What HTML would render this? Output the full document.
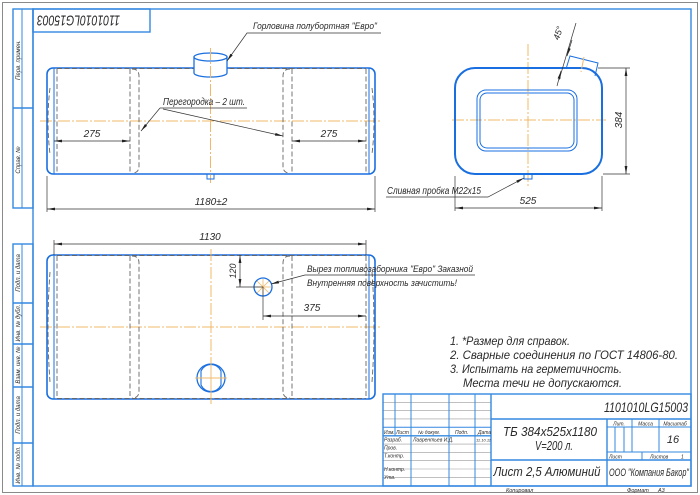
<!DOCTYPE html>
<html><head><meta charset="utf-8"><style>
html,body{margin:0;padding:0;background:#fff;width:700px;height:495px;overflow:hidden}
svg{display:block}
text{font-family:"Liberation Sans","DejaVu Sans",sans-serif;font-style:italic;fill:#2a2a2a}
.fr{fill:none;stroke:#3388e0;stroke-width:1.4}
.fl{fill:none;stroke:#3388e0;stroke-width:1}
.g{fill:none;stroke:#9a9a9a;stroke-width:0.6}
.b{fill:none;stroke:#1a6fe0;stroke-width:1.6}
.bt{fill:none;stroke:#1a6fe0;stroke-width:1}
.d{fill:none;stroke:#666;stroke-width:0.9;stroke-dasharray:5 2.5}
.c{fill:none;stroke:#f0b868;stroke-width:1;stroke-dasharray:12 2 2 2}
.dm{fill:none;stroke:#333;stroke-width:0.7}
</style></head><body>
<svg width="700" height="495" viewBox="0 0 700 495" xmlns="http://www.w3.org/2000/svg">
<defs>
<marker id="ar" markerUnits="userSpaceOnUse" markerWidth="8" markerHeight="4" viewBox="0 0 8 4" refX="8" refY="2" orient="auto-start-reverse"><path d="M0,0.6 L8,2 L0,3.4z" fill="#222"/></marker>
</defs>
<rect width="700" height="495" fill="#fff"/>
<rect x="2.5" y="2.5" width="695" height="490" fill="none" stroke="#8a8a8a" stroke-width="1"/>
<rect x="33" y="9" width="658" height="477" class="fr"/>

<!-- left strips -->
<rect x="13" y="9" width="20" height="199" class="fr"/>
<line x1="22" y1="9" x2="22" y2="208" class="fl"/>
<line x1="13" y1="108" x2="33" y2="108" class="fr"/>
<text transform="translate(20,60) rotate(-90)" text-anchor="middle" font-size="6">Перв. примен.</text>
<text transform="translate(20,160) rotate(-90)" text-anchor="middle" font-size="6">Справ. №</text>

<rect x="13" y="244" width="20" height="242" class="fr"/>
<line x1="22" y1="244" x2="22" y2="486" class="fl"/>
<line x1="13" y1="303" x2="33" y2="303" class="fr"/>
<line x1="13" y1="344" x2="33" y2="344" class="fr"/>
<line x1="13" y1="387" x2="33" y2="387" class="fr"/>
<line x1="13" y1="443" x2="33" y2="443" class="fr" stroke-width="2"/>
<text transform="translate(20,273) rotate(-90)" text-anchor="middle" font-size="6">Подп. и дата</text>
<text transform="translate(20,323) rotate(-90)" text-anchor="middle" font-size="6">Инв. № дубл.</text>
<text transform="translate(20,365) rotate(-90)" text-anchor="middle" font-size="6">Взам. инв. №</text>
<text transform="translate(20,415) rotate(-90)" text-anchor="middle" font-size="6">Подп. и дата</text>
<text transform="translate(20,465) rotate(-90)" text-anchor="middle" font-size="6">Инв. № подл.</text>

<!-- top stamp -->
<rect x="33" y="9" width="117" height="23" class="fr"/>
<text transform="translate(78.5,15.5) rotate(180)" text-anchor="middle" font-size="15" textLength="83" lengthAdjust="spacingAndGlyphs">1101010LG15003</text>

<!-- ===== TOP VIEW ===== -->
<line x1="40" y1="121" x2="380" y2="121" class="c"/>
<rect x="47" y="68" width="328" height="106" rx="6" class="b"/>
<line x1="54" y1="68" x2="54" y2="174" class="bt" stroke-width="1.3"/>
<line x1="369" y1="68" x2="369" y2="174" class="bt" stroke-width="1.3"/>
<line x1="57" y1="69" x2="57" y2="173" class="d"/>
<line x1="366" y1="69" x2="366" y2="173" class="d"/>
<line x1="130" y1="69" x2="130" y2="173" class="d"/>
<path d="M132,69 Q139,69 139,76 L139,166 Q139,173 132,173" class="d"/>
<line x1="292" y1="69" x2="292" y2="173" class="d"/>
<path d="M290,69 Q283,69 283,76 L283,166 Q283,173 290,173" class="d"/>
<path d="M50,88 Q46,121 50,154" class="d"/>
<path d="M372,88 Q376,121 372,154" class="d"/>
<line x1="57" y1="68.5" x2="366" y2="68.5" class="d" stroke="#444"/>
<!-- neck -->
<path d="M194,57 L194,73 A16.5,4 0 0 0 227,73 L227,57 Z" fill="#fff" stroke="#1a6fe0" stroke-width="1.3"/>
<ellipse cx="210.5" cy="57" rx="16.5" ry="4" fill="#fff" stroke="#1a6fe0" stroke-width="1.3"/>
<line x1="210.5" y1="48" x2="210.5" y2="183" class="c"/>
<rect x="207" y="174" width="7" height="5" class="bt"/>
<!-- dims -->
<line x1="54" y1="141" x2="130" y2="141" class="dm" marker-start="url(#ar)" marker-end="url(#ar)"/>
<text x="92" y="137" font-size="10" text-anchor="middle">275</text>
<line x1="292" y1="141" x2="366" y2="141" class="dm" marker-start="url(#ar)" marker-end="url(#ar)"/>
<text x="329" y="137" font-size="10" text-anchor="middle">275</text>
<line x1="47" y1="176" x2="47" y2="212" class="dm"/>
<line x1="375" y1="176" x2="375" y2="212" class="dm"/>
<line x1="47" y1="209" x2="375" y2="209" class="dm" marker-start="url(#ar)" marker-end="url(#ar)"/>
<text x="211" y="205" font-size="10" text-anchor="middle">1180±2</text>
<!-- leaders -->
<polyline points="227,61 247,33 381,33" class="dm" marker-start="url(#ar)"/>
<text x="253" y="29" font-size="9.5" textLength="124" lengthAdjust="spacingAndGlyphs">Горловина полубортная "Евро"</text>
<line x1="160" y1="108" x2="247" y2="108" class="dm"/>
<text x="163" y="105" font-size="10" textLength="82" lengthAdjust="spacingAndGlyphs">Перегородка – 2 шт.</text>
<line x1="160" y1="108" x2="141" y2="131" class="dm" marker-end="url(#ar)"/>
<line x1="163" y1="109" x2="283" y2="136" class="dm" marker-end="url(#ar)"/>

<!-- ===== SIDE VIEW ===== -->
<line x1="452" y1="120" x2="606" y2="120" class="c"/>
<line x1="528" y1="44" x2="528" y2="186" class="c"/>
<rect x="455" y="68" width="147" height="106" rx="20" fill="none" stroke="#1a6fe0" stroke-width="2"/>
<rect x="477" y="90" width="100" height="61" rx="9" class="bt"/>
<rect x="480" y="93" width="94" height="55" rx="7" class="bt"/>
<path d="M566,69 L570,56 L598,63 L595,76" class="bt"/>
<line x1="584" y1="57" x2="581" y2="72" class="c"/>
<line x1="559" y1="80" x2="576" y2="23" class="dm"/>
<line x1="557" y1="86" x2="561" y2="71" class="dm" marker-end="url(#ar)"/>
<line x1="572" y1="40" x2="567" y2="56" class="dm" marker-end="url(#ar)"/>
<text transform="translate(561,34) rotate(-72)" text-anchor="middle" font-size="9">45°</text>
<line x1="598" y1="68" x2="630" y2="68" class="dm"/>
<line x1="603" y1="174" x2="630" y2="174" class="dm"/>
<line x1="626" y1="68" x2="626" y2="174" class="dm" marker-start="url(#ar)" marker-end="url(#ar)"/>
<text transform="translate(622,120) rotate(-90)" text-anchor="middle" font-size="10">384</text>
<line x1="455" y1="176" x2="455" y2="211" class="dm"/>
<line x1="602" y1="176" x2="602" y2="211" class="dm"/>
<line x1="455" y1="208" x2="602" y2="208" class="dm" marker-start="url(#ar)" marker-end="url(#ar)"/>
<text x="528" y="204" font-size="10" text-anchor="middle">525</text>
<rect x="524" y="174" width="8" height="5" class="bt"/>
<polyline points="524,178 488,197 386,197" class="dm" marker-start="url(#ar)"/>
<text x="387" y="194" font-size="10" textLength="94" lengthAdjust="spacingAndGlyphs">Сливная пробка M22x15</text>

<!-- ===== BOTTOM VIEW ===== -->
<line x1="40" y1="327" x2="380" y2="327" class="c"/>
<rect x="47" y="255" width="328" height="144" rx="6" class="b"/>
<line x1="54" y1="255" x2="54" y2="399" class="bt" stroke-width="1.3"/>
<line x1="369" y1="255" x2="369" y2="399" class="bt" stroke-width="1.3"/>
<line x1="57" y1="256" x2="57" y2="398" class="d"/>
<line x1="366" y1="256" x2="366" y2="398" class="d"/>
<line x1="130" y1="256" x2="130" y2="398" class="d"/>
<path d="M132,256 Q139,256 139,263 L139,391 Q139,398 132,398" class="d"/>
<line x1="292" y1="256" x2="292" y2="398" class="d"/>
<path d="M290,256 Q283,256 283,263 L283,391 Q283,398 290,398" class="d"/>
<path d="M50,272 Q46,327 50,382" class="d"/>
<path d="M372,272 Q376,327 372,382" class="d"/>
<line x1="57" y1="255.5" x2="366" y2="255.5" class="d" stroke="#444"/>
<line x1="57" y1="398.5" x2="366" y2="398.5" class="d" stroke="#444"/>
<line x1="211" y1="249" x2="211" y2="404" class="c"/>
<!-- hole -->
<circle cx="263" cy="287" r="9" fill="#fff" stroke="#1a6fe0" stroke-width="1.3"/>
<g stroke="#f0b868" stroke-width="0.8">
<line x1="255" y1="287" x2="271" y2="287"/><line x1="263" y1="279" x2="263" y2="295"/>
<line x1="257" y1="281" x2="269" y2="293"/><line x1="269" y1="281" x2="257" y2="293"/>
</g>
<line x1="236" y1="287" x2="263" y2="287" class="dm"/>
<line x1="240" y1="255" x2="240" y2="287" class="dm" marker-start="url(#ar)" marker-end="url(#ar)"/>
<text transform="translate(236,271) rotate(-90)" text-anchor="middle" font-size="9">120</text>
<line x1="263" y1="287" x2="263" y2="320" class="dm"/>
<line x1="263" y1="316" x2="366" y2="316" class="dm" marker-start="url(#ar)" marker-end="url(#ar)"/>
<text x="312" y="311" font-size="10" text-anchor="middle">375</text>
<line x1="54" y1="240" x2="54" y2="255" class="dm"/>
<line x1="366" y1="240" x2="366" y2="255" class="dm"/>
<line x1="54" y1="244" x2="366" y2="244" class="dm" marker-start="url(#ar)" marker-end="url(#ar)"/>
<text x="210" y="240" font-size="10" text-anchor="middle">1130</text>
<polyline points="271,284 305,275 475,275" class="dm" marker-start="url(#ar)"/>
<text x="307" y="272" font-size="9.5" textLength="166" lengthAdjust="spacingAndGlyphs">Вырез топливозаборника "Евро" Заказной</text>
<text x="307" y="286" font-size="9.5" textLength="150" lengthAdjust="spacingAndGlyphs">Внутренняя поверхность зачистить!</text>
<!-- bottom neck -->
<circle cx="211" cy="378" r="14" fill="#fff" stroke="#1a6fe0" stroke-width="1.3"/>
<path d="M201,371 A11,11 0 0 1 221,371 L221,385 A11,11 0 0 1 201,385 Z" fill="none" stroke="#1a6fe0" stroke-width="1.1"/>
<line x1="195" y1="378" x2="227" y2="378" stroke="#f0b868" stroke-width="0.9"/>
<line x1="211" y1="362" x2="211" y2="394" stroke="#f0b868" stroke-width="0.9"/>

<!-- notes -->
<text x="450" y="345" font-size="12" textLength="120" lengthAdjust="spacingAndGlyphs">1. *Размер для справок.</text>
<text x="450" y="359" font-size="12" textLength="228" lengthAdjust="spacingAndGlyphs">2. Сварные соединения по ГОСТ 14806-80.</text>
<text x="450" y="373" font-size="12" textLength="172" lengthAdjust="spacingAndGlyphs">3. Испытать на герметичность.</text>
<text x="463" y="387" font-size="12" textLength="159" lengthAdjust="spacingAndGlyphs">Места течи не допускаются.</text>

<!-- ===== TITLE BLOCK ===== -->
<g class="g">
<line x1="383" y1="402.3" x2="491" y2="402.3"/>
<line x1="383" y1="410.6" x2="491" y2="410.6"/>
<line x1="383" y1="418.9" x2="491" y2="418.9"/>
<line x1="383" y1="444.1" x2="491" y2="444.1"/>
<line x1="383" y1="452.4" x2="491" y2="452.4"/>
<line x1="383" y1="460.7" x2="491" y2="460.7"/>
<line x1="383" y1="469.0" x2="491" y2="469.0"/>
<line x1="383" y1="477.3" x2="491" y2="477.3"/>
</g>
<line x1="383" y1="427.2" x2="491" y2="427.2" class="fl"/>
<line x1="383" y1="435.8" x2="491" y2="435.8" class="fr"/>
<rect x="383" y="394" width="308" height="92" class="fr"/>
<line x1="395" y1="394" x2="395" y2="436" class="fl"/>
<line x1="411" y1="394" x2="411" y2="486" class="fl"/>
<line x1="449" y1="394" x2="449" y2="486" class="fl"/>
<line x1="475" y1="394" x2="475" y2="486" class="fl"/>
<line x1="491" y1="394" x2="491" y2="486" class="fr"/>
<line x1="491" y1="419" x2="691" y2="419" class="fr"/>
<line x1="491" y1="460" x2="691" y2="460" class="fr"/>
<line x1="607" y1="419" x2="607" y2="486" class="fr"/>
<line x1="607" y1="427" x2="691" y2="427" class="fl"/>
<line x1="632" y1="419" x2="632" y2="452" class="fl"/>
<line x1="659" y1="419" x2="659" y2="452" class="fl"/>
<line x1="615" y1="427" x2="615" y2="452" class="fl"/>
<line x1="624" y1="427" x2="624" y2="452" class="fl"/>
<line x1="607" y1="452" x2="691" y2="452" class="fl"/>
<line x1="642" y1="452" x2="642" y2="460" class="fl"/>

<text x="384" y="434" font-size="5">Изм.</text>
<text x="396" y="434" font-size="5">Лист</text>
<text x="418" y="434" font-size="5">№ докум.</text>
<text x="455" y="434" font-size="5">Подп.</text>
<text x="478" y="434" font-size="5">Дата</text>
<text x="384" y="441.5" font-size="5">Разраб.</text>
<text x="413" y="441.5" font-size="5">Лаврентьев И.Д.</text>
<text x="476" y="441.5" font-size="4">11.10.11</text>
<text x="384" y="449.5" font-size="5">Пров.</text>
<text x="384" y="457.5" font-size="5">Т.контр.</text>
<text x="384" y="471" font-size="5">Н.контр.</text>
<text x="384" y="479" font-size="5">Утв.</text>

<text x="688" y="412" font-size="14" text-anchor="end" textLength="84" lengthAdjust="spacingAndGlyphs">1101010LG15003</text>
<text x="550" y="436" font-size="13" text-anchor="middle" textLength="94" lengthAdjust="spacingAndGlyphs">ТБ 384x525x1180</text>
<text x="554" y="450" font-size="13" text-anchor="middle" textLength="38" lengthAdjust="spacingAndGlyphs">V=200 л.</text>
<text x="547" y="476" font-size="13" text-anchor="middle" textLength="107" lengthAdjust="spacingAndGlyphs">Лист 2,5 Алюминий</text>
<text x="649" y="476" font-size="11" text-anchor="middle" textLength="80" lengthAdjust="spacingAndGlyphs">ООО "Компания Бакор"</text>
<text x="619" y="425.5" font-size="5" text-anchor="middle">Лит.</text>
<text x="645.5" y="425.5" font-size="5" text-anchor="middle">Масса</text>
<text x="675" y="425.5" font-size="5" text-anchor="middle">Масштаб</text>
<text x="673" y="443" font-size="11" text-anchor="middle">16</text>
<text x="609" y="458.5" font-size="5">Лист</text>
<text x="650" y="458.5" font-size="5">Листов</text>
<text x="681" y="458.5" font-size="5">1</text>

<text x="506" y="492" font-size="5.5">Копировал</text>
<text x="627" y="492" font-size="5.5">Формат</text>
<text x="658" y="492" font-size="5.5">A3</text>
</svg>
</body></html>
